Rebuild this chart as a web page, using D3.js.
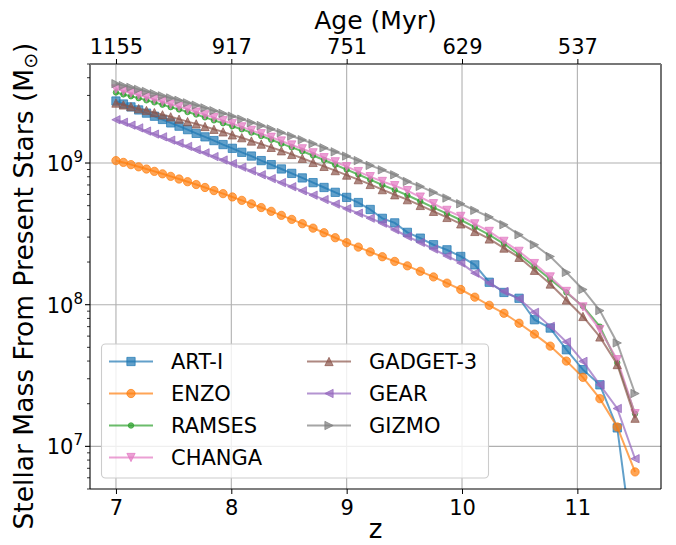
<!DOCTYPE html>
<html lang="en">
<head>
    <meta charset="UTF-8">
    <title>Stellar Mass From Present Stars</title>
    <script src="https://d3js.org/d3.v7.min.js"></script>
    <style>
        body { margin: 0; background: white; }
        svg { display: block; font-family: "DejaVu Sans", sans-serif; }
    </style>
</head>
<body>
    <svg id="chart" width="676" height="545"></svg>
    <script>
        // redshift of each snapshot
        const zValues = [7.0, 7.0645, 7.1301, 7.1967, 7.2645, 7.3333, 7.4034, 7.4746, 7.547, 7.6207,
            7.6957, 7.7719, 7.8496, 7.9286, 8.009, 8.0909, 8.1743, 8.2593, 8.3458, 8.434,
            8.5238, 8.6154, 8.7087, 8.8039, 8.901, 9.0, 9.101, 9.2041, 9.3093, 9.4167,
            9.5263, 9.6383, 9.7527, 9.8696, 9.989, 10.1111, 10.236, 10.3636, 10.4943, 10.6279,
            10.7647, 10.9048, 11.0482, 11.1951, 11.3457, 11.5];

        // stellar mass (Msun) per code
        const artI = [2.74e9, 2.61e9, 2.49e9, 2.37e9, 2.25e9, 2.14e9, 2.03e9, 1.92e9, 1.82e9, 1.72e9,
            1.62e9, 1.53e9, 1.44e9, 1.35e9, 1.27e9, 1.19e9, 1.12e9, 1.04e9, 9.74e8, 9.08e8,
            8.45e8, 7.85e8, 7.27e8, 6.72e8, 6.21e8, 5.72e8, 5.26e8, 4.70e8, 4.07e8, 3.78e8,
            3.24e8, 2.95e8, 2.65e8, 2.44e8, 2.19e8, 1.91e8, 1.44e8, 1.22e8, 1.11e8, 7.83e7,
            6.84e7, 4.81e7, 3.48e7, 2.72e7, 1.35e7, 1.5e6];
        const enzo = [1.04e9, 1.01e9, 9.74e8, 9.40e8, 9.07e8, 8.73e8, 8.39e8, 8.05e8, 7.71e8, 7.38e8,
            7.05e8, 6.72e8, 6.39e8, 6.08e8, 5.76e8, 5.45e8, 5.15e8, 4.85e8, 4.56e8, 4.27e8,
            4.00e8, 3.73e8, 3.47e8, 3.22e8, 2.97e8, 2.74e8, 2.55e8, 2.36e8, 2.18e8, 2.02e8,
            1.88e8, 1.72e8, 1.57e8, 1.42e8, 1.28e8, 1.13e8, 9.9e7, 8.7e7, 7.4e7, 6.2e7,
            5.1e7, 4.0e7, 3.07e7, 2.17e7, 1.37e7, 6.6e6];
        const ramses = [3.15e9, 3.05e9, 2.96e9, 2.87e9, 2.77e9, 2.68e9, 2.58e9, 2.48e9, 2.39e9, 2.29e9,
            2.20e9, 2.10e9, 2.00e9, 1.91e9, 1.82e9, 1.73e9, 1.64e9, 1.55e9, 1.46e9, 1.37e9,
            1.29e9, 1.21e9, 1.13e9, 1.05e9, 9.72e8, 8.99e8, 8.30e8, 7.63e8, 7.00e8, 6.46e8,
            5.92e8, 5.37e8, 4.85e8, 4.39e8, 3.96e8, 3.53e8, 3.11e8, 2.69e8, 2.26e8, 1.86e8,
            1.51e8, 1.22e8, 9.77e7, 7.00e7, 3.89e7, 1.70e7];
        const changa = [3.33e9, 3.22e9, 3.12e9, 3.02e9, 2.91e9, 2.81e9, 2.71e9, 2.60e9, 2.50e9, 2.40e9,
            2.29e9, 2.19e9, 2.09e9, 1.99e9, 1.90e9, 1.80e9, 1.70e9, 1.61e9, 1.52e9, 1.43e9,
            1.34e9, 1.26e9, 1.18e9, 1.09e9, 1.02e9, 9.42e8, 8.70e8, 8.01e8, 7.41e8, 6.92e8,
            6.38e8, 5.75e8, 5.16e8, 4.63e8, 4.20e8, 3.72e8, 3.29e8, 2.80e8, 2.38e8, 1.95e8,
            1.57e8, 1.24e8, 9.64e7, 6.67e7, 4.09e7, 1.70e7];
        const gadget3 = [2.65e9, 2.57e9, 2.50e9, 2.42e9, 2.35e9, 2.27e9, 2.19e9, 2.12e9, 2.04e9, 1.96e9,
            1.89e9, 1.81e9, 1.73e9, 1.66e9, 1.58e9, 1.51e9, 1.43e9, 1.36e9, 1.29e9, 1.22e9,
            1.15e9, 1.08e9, 1.01e9, 9.47e8, 8.84e8, 8.22e8, 7.63e8, 7.06e8, 6.49e8, 5.97e8,
            5.51e8, 5.02e8, 4.56e8, 4.13e8, 3.72e8, 3.29e8, 2.91e8, 2.51e8, 2.16e8, 1.75e8,
            1.40e8, 1.08e8, 8.26e7, 5.92e7, 3.78e7, 1.58e7];
        const gear = [2.02e9, 1.94e9, 1.85e9, 1.77e9, 1.68e9, 1.60e9, 1.53e9, 1.45e9, 1.38e9, 1.31e9,
            1.24e9, 1.18e9, 1.11e9, 1.05e9, 9.91e8, 9.34e8, 8.79e8, 8.26e8, 7.76e8, 7.27e8,
            6.80e8, 6.36e8, 5.93e8, 5.52e8, 5.13e8, 4.76e8, 4.42e8, 4.08e8, 3.76e8, 3.38e8,
            3.03e8, 2.75e8, 2.47e8, 2.21e8, 1.97e8, 1.67e8, 1.42e8, 1.24e8, 1.10e8, 8.83e7,
            7.03e7, 5.46e7, 3.98e7, 2.72e7, 1.85e7, 8.18e6];
        const gizmo = [3.63e9, 3.52e9, 3.42e9, 3.31e9, 3.20e9, 3.09e9, 2.98e9, 2.88e9, 2.77e9, 2.66e9,
            2.56e9, 2.45e9, 2.34e9, 2.24e9, 2.14e9, 2.04e9, 1.93e9, 1.84e9, 1.74e9, 1.64e9,
            1.55e9, 1.46e9, 1.37e9, 1.28e9, 1.20e9, 1.12e9, 1.04e9, 9.62e8, 8.95e8, 8.26e8,
            7.41e8, 6.84e8, 6.21e8, 5.66e8, 5.16e8, 4.63e8, 4.16e8, 3.67e8, 3.12e8, 2.65e8,
            2.19e8, 1.69e8, 1.28e8, 9.08e7, 5.37e7, 2.36e7];

        const codeNames = ["ART-I", "ENZO", "RAMSES", "CHANGA", "GADGET-3", "GEAR", "GIZMO"];
        const zTicks = [7, 8, 9, 10, 11];
        const ageLabels = ["1155", "917", "751", "629", "537"];
        const yMajor = [1e7, 1e8, 1e9];

        const series = [
            { name: codeNames[0], values: artI, color: "#1f77b4", marker: "square" },
            { name: codeNames[1], values: enzo, color: "#ff7f0e", marker: "circle" },
            { name: codeNames[2], values: ramses, color: "#2ca02c", marker: "dot" },
            { name: codeNames[3], values: changa, color: "#e377c2", marker: "down" },
            { name: codeNames[4], values: gadget3, color: "#8c564b", marker: "up" },
            { name: codeNames[5], values: gear, color: "#9467bd", marker: "left" },
            { name: codeNames[6], values: gizmo, color: "#7f7f7f", marker: "right" }
        ];

        const svg = d3.select("#chart");
        const L = 90, R = 661, T = 64, B = 489;
        const x = d3.scaleLinear().domain([6.775, 11.725]).range([L, R]);
        const y = d3.scaleLog().domain([5e6, 5e9]).range([B, T]);
        const alpha = 0.7;

        svg.append("defs").append("clipPath").attr("id", "plotclip")
            .append("rect").attr("x", L).attr("y", T).attr("width", R - L).attr("height", B - T);

        // grid
        const grid = svg.append("g").attr("stroke", "#b0b0b0").attr("stroke-width", 1.1);
        zTicks.forEach(z => grid.append("line").attr("x1", x(z)).attr("x2", x(z)).attr("y1", T).attr("y2", B));
        yMajor.forEach(v => grid.append("line").attr("x1", L).attr("x2", R).attr("y1", y(v)).attr("y2", y(v)));

        function markerPath(type, s) {
            const h = s / 2;
            switch (type) {
                case "square": return `M${-h},${-h}H${h}V${h}H${-h}Z`;
                case "up": return `M0,${-h}L${h},${h}L${-h},${h}Z`;
                case "down": return `M0,${h}L${h},${-h}L${-h},${-h}Z`;
                case "left": return `M${-h},0L${h},${-h}L${h},${h}Z`;
                case "right": return `M${h},0L${-h},${-h}L${-h},${h}Z`;
                case "dot": { const r = s * 0.33; return `M${r},0A${r},${r} 0 1,1 ${-r},0A${r},${r} 0 1,1 ${r},0Z`; }
                default: { const r = h; return `M${r},0A${r},${r} 0 1,1 ${-r},0A${r},${r} 0 1,1 ${r},0Z`; }
            }
        }

        const line = d3.line().x(d => x(d[0])).y(d => y(d[1]));
        const plot = svg.append("g").attr("clip-path", "url(#plotclip)");
        const ms = 8.3;

        series.forEach(s => {
            const pts = zValues.map((z, i) => [z, s.values[i]]);
            const g = plot.append("g");
            g.append("path").datum(pts).attr("d", line)
                .attr("fill", "none").attr("stroke", s.color)
                .attr("stroke-opacity", alpha).attr("stroke-width", 2);
            g.selectAll("path.mk").data(pts).join("path").attr("class", "mk")
                .attr("d", markerPath(s.marker, ms))
                .attr("transform", d => `translate(${x(d[0])},${y(d[1])})`)
                .attr("fill", s.color).attr("fill-opacity", alpha)
                .attr("stroke", s.color).attr("stroke-opacity", alpha).attr("stroke-width", 1);
        });

        // spines
        const spines = svg.append("g").attr("fill", "none");
        spines.append("line").attr("x1", L).attr("x2", L).attr("y1", T).attr("y2", B).attr("stroke", "black").attr("stroke-width", 1.1);
        spines.append("line").attr("x1", R).attr("x2", R).attr("y1", T).attr("y2", B).attr("stroke", "black").attr("stroke-width", 1.1);
        spines.append("line").attr("x1", L).attr("x2", R).attr("y1", B).attr("y2", B).attr("stroke", "black").attr("stroke-width", 1.1);
        spines.append("line").attr("x1", L).attr("x2", R).attr("y1", T).attr("y2", T).attr("stroke", "#777").attr("stroke-width", 2);

        // bottom axis
        const xAxis = d3.axisBottom(x).tickValues(zTicks).tickSize(5).tickPadding(6).tickFormat(d3.format("d"));
        const gx = svg.append("g").attr("transform", `translate(0,${B})`).call(xAxis);
        gx.select(".domain").remove();
        gx.selectAll("text").attr("font-size", 21).attr("font-family", "DejaVu Sans").attr("fill", "black");

        // top axis (age)
        const xTop = d3.axisTop(x).tickValues(zTicks).tickSize(5).tickPadding(5)
            .tickFormat((d, i) => ageLabels[i]);
        const gt = svg.append("g").attr("transform", `translate(0,${T})`).call(xTop);
        gt.select(".domain").remove();
        gt.selectAll("text").attr("font-size", 21).attr("font-family", "DejaVu Sans").attr("fill", "black");

        // left axis (log)
        const minor = [];
        [1e6, 1e7, 1e8, 1e9].forEach(d => { for (let k = 2; k <= 9; k++) { const v = k * d; if (v >= 5e6 && v <= 5e9) minor.push(v); } });
        const gyMinor = svg.append("g");
        gyMinor.selectAll("line").data(minor).join("line")
            .attr("x1", L - 3).attr("x2", L).attr("y1", d => y(d)).attr("y2", d => y(d))
            .attr("stroke", "black").attr("stroke-width", 0.8);
        const gy = svg.append("g");
        yMajor.forEach(v => {
            gy.append("line").attr("x1", L - 5).attr("x2", L).attr("y1", y(v)).attr("y2", y(v))
                .attr("stroke", "black").attr("stroke-width", 1.1);
            const t = gy.append("text").attr("x", L - 7).attr("y", y(v) + 8)
                .attr("text-anchor", "end").attr("font-size", 21).attr("fill", "black");
            t.append("tspan").text("10");
            t.append("tspan").attr("dy", -9).attr("font-size", 15).text(Math.round(Math.log10(v)));
        });

        // axis titles
        svg.append("text").attr("x", (L + R) / 2).attr("y", 538).attr("text-anchor", "middle")
            .attr("font-size", 26).text("z");
        svg.append("text").attr("x", (L + R) / 2).attr("y", 29).attr("text-anchor", "middle")
            .attr("font-size", 25).text("Age (Myr)");
        const yl = svg.append("text").attr("transform", `translate(33,286) rotate(-90)`)
            .attr("text-anchor", "middle").attr("font-size", 26.5);
        yl.append("tspan").text("Stellar Mass From Present Stars (M");
        yl.append("tspan").attr("font-size", 19).attr("dy", 4).text("\u2299");
        yl.append("tspan").attr("dy", -4).text(")");

        // legend
        const lg = svg.append("g");
        lg.append("rect").attr("x", 101.5).attr("y", 344).attr("width", 387).attr("height", 134)
            .attr("rx", 4).attr("fill", "white").attr("fill-opacity", 0.8)
            .attr("stroke", "#cccccc").attr("stroke-width", 1.1);
        series.forEach((s, i) => {
            const col = i < 4 ? 0 : 1, row = i < 4 ? i : i - 4;
            const x0 = col === 0 ? 109 : 307;
            const yy = 361.5 + row * 32;
            lg.append("line").attr("x1", x0).attr("x2", x0 + 44).attr("y1", yy).attr("y2", yy)
                .attr("stroke", s.color).attr("stroke-opacity", alpha).attr("stroke-width", 2);
            lg.append("path").attr("d", markerPath(s.marker, ms))
                .attr("transform", `translate(${x0 + 22},${yy})`)
                .attr("fill", s.color).attr("fill-opacity", alpha)
                .attr("stroke", s.color).attr("stroke-opacity", alpha);
            lg.append("text").attr("x", x0 + 62).attr("y", yy + 7.5).attr("font-size", 21)
                .attr("fill", "black").text(s.name);
        });
    </script>
</body>
</html>
